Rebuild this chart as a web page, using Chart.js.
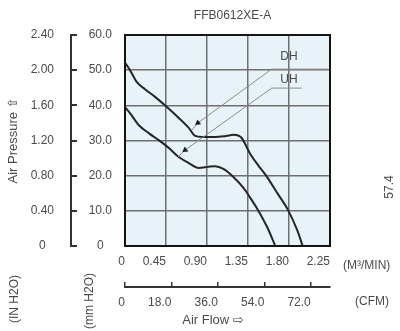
<!DOCTYPE html>
<html lang="en">
<head>
  <meta charset="UTF-8" />
  <title>FFB0612XE-A</title>
  <script src="https://cdn.jsdelivr.net/npm/chart.js"></script>
  <style>
    html, body { margin: 0; padding: 0; background: #fff; }
  </style>
</head>
<body>
  <canvas id="fanChart" width="400" height="331"></canvas>

  <script>
    // P-Q curves: flow in m3/min, static pressure in mmH2O
    const dhFlow     = [0, 0.055, 0.13, 0.22, 0.33, 0.46, 0.59, 0.70, 0.77, 0.85, 0.99, 1.11, 1.19, 1.28, 1.37, 1.46, 1.56, 1.67, 1.79, 1.89, 1.95];
    const dhPressure = [52.1, 50.0, 46.6, 44.6, 42.4, 39.5, 36.4, 33.6, 31.3, 31.0, 31.0, 31.3, 31.6, 30.7, 26.4, 23.0, 19.6, 15.1, 10.2, 4.5, 0];
    const uhFlow     = [0, 0.055, 0.15, 0.26, 0.37, 0.48, 0.59, 0.70, 0.81, 0.91, 0.99, 1.08, 1.19, 1.30, 1.37, 1.46, 1.56, 1.65];
    const uhPressure = [39.5, 37.8, 34.4, 32.1, 30.1, 27.9, 25.3, 23.6, 22.2, 22.5, 22.7, 21.9, 19.6, 16.5, 13.9, 10.2, 5.4, 0];

    // leader lines from the curve names down to the curves
    const dhLeaderFlow  = [2.23, 1.61, 0.80, 0.735];
    const dhLeaderPress = [50.3, 50.3, 35.0, 33.0];
    const uhLeaderFlow  = [1.94, 1.61, 0.66, 0.58];
    const uhLeaderPress = [44.9, 44.9, 27.3, 25.3];

    // axis ticks
    const flowTicksM3   = [0, 0.45, 0.90, 1.35, 1.80, 2.25];
    const flowTicksCfm  = [0, 18, 36, 54, 72];
    const pressTicksMm  = [0, 10, 20, 30, 40, 50, 60];
    const pressTicksIn  = [0, 0.40, 0.80, 1.20, 1.60, 2.00, 2.40];

    const modelName = 'FFB0612XE-A';
    const M3_PER_CFM = 0.0283168;

    const family = '"Liberation Sans", Arial, "DejaVu Sans", sans-serif';
    const textColor = '#4a4a4a';
    const gridColor = '#6f6f6f';
    const inkColor = '#262626';

    const toPoints = (xs, ys) => xs.map((x, i) => ({ x: x, y: ys[i] }));
    const useTicks = list => scale => { scale.ticks = list.map(v => ({ value: v })); };

    const extras = {
      id: 'extras',
      beforeDraw(chart) {
        const { ctx, chartArea: a } = chart;
        ctx.save();
        ctx.fillStyle = '#e8f3f9';
        ctx.fillRect(a.left, a.top, a.right - a.left, a.bottom - a.top);
        ctx.restore();
      },
      afterDraw(chart) {
        const { ctx, chartArea: a, scales } = chart;
        ctx.save();
        ctx.strokeStyle = '#141414';
        ctx.lineWidth = 2;
        ctx.strokeRect(a.left, a.top, a.right - a.left, a.bottom - a.top);

        ctx.fillStyle = textColor;
        ctx.textBaseline = 'middle';
        ctx.font = '12px ' + family;
        ctx.textAlign = 'center';
        ctx.fillText(modelName, (a.left + a.right) / 2 + 5, a.top - 19);

        // curve names sit on their leader underline
        const lx = scales.xM3.getPixelForValue(1.80);
        ctx.fillText('DH', lx, scales.yMm.getPixelForValue(53.7));
        ctx.fillText('UH', lx, scales.yMm.getPixelForValue(47.2));

        ctx.textAlign = 'left';
        ctx.fillText('(M³/MIN)', a.right + 13, 266);
        ctx.fillText('(CFM)', a.right + 25, 302);
        ctx.font = '13px ' + family;
        ctx.textAlign = 'center';
        ctx.fillText('Air Flow ⇨', 213, 320);

        const vertical = (txt, x, y) => {
          ctx.save();
          ctx.translate(x, y);
          ctx.rotate(-Math.PI / 2);
          ctx.fillText(txt, 0, 0);
          ctx.restore();
        };
        ctx.font = '12px ' + family;
        vertical('(IN H2O)', 15, 299);
        vertical('(mm H2O)', 90, 301);
        vertical('57.4', 390, 187);
        ctx.restore();
      }
    };

    const leader = (xs, ys, rot) => ({
      data: toPoints(xs, ys),
      borderColor: '#8c8c8c',
      borderWidth: 1,
      tension: 0,
      pointRadius: [0, 0, 3.5, 0],
      pointStyle: 'triangle',
      pointRotation: rot,
      pointBackgroundColor: '#1a1a1a',
      pointBorderWidth: 0,
      xAxisID: 'xM3',
      yAxisID: 'yMm'
    });

    const curve = (xs, ys) => ({
      data: toPoints(xs, ys),
      borderColor: inkColor,
      borderWidth: 2,
      pointRadius: 0,
      cubicInterpolationMode: 'monotone',
      xAxisID: 'xM3',
      yAxisID: 'yMm'
    });

    const tickFont = { family: family, size: 12 };

    new Chart(document.getElementById('fanChart'), {
      type: 'line',
      data: {
        datasets: [
          leader(dhLeaderFlow, dhLeaderPress, 233),
          leader(uhLeaderFlow, uhLeaderPress, 234),
          curve(dhFlow, dhPressure),
          curve(uhFlow, uhPressure)
        ]
      },
      options: {
        responsive: false,
        animation: false,
        layout: { padding: { top: 35, right: 70, left: 0, bottom: 0 } },
        plugins: { legend: { display: false }, tooltip: { enabled: false } },
        scales: {
          xM3: {
            type: 'linear', position: 'bottom', weight: 0,
            min: 0, max: 2.25,
            afterBuildTicks: useTicks(flowTicksM3),
            afterFit: s => { s.height = 41; },
            grid: { color: gridColor, lineWidth: 1.5, drawTicks: false },
            border: { display: false },
            ticks: {
              align: 'end', padding: 8, maxRotation: 0, autoSkip: false,
              color: textColor, font: tickFont,
              callback: v => v === 0 ? '0' : v.toFixed(2)
            }
          },
          xCfm: {
            type: 'linear', position: 'bottom', weight: 1,
            min: 0, max: 2.25 / M3_PER_CFM,
            afterBuildTicks: useTicks(flowTicksCfm),
            afterFit: s => { s.height = 44; },
            grid: { drawOnChartArea: false, drawTicks: true, tickLength: -5, color: '#333', lineWidth: 1.5 },
            border: { display: true, color: '#333', width: 2 },
            ticks: {
              align: 'end', padding: 13, maxRotation: 0, autoSkip: false,
              color: textColor, font: tickFont,
              callback: v => v === 0 ? '0' : v.toFixed(1)
            }
          },
          yMm: {
            type: 'linear', position: 'left', weight: 0,
            min: 0, max: 60,
            afterBuildTicks: useTicks(pressTicksMm),
            afterFit: s => { s.width = 54; },
            grid: { color: gridColor, lineWidth: 1.5, drawTicks: false },
            border: { display: false },
            ticks: {
              crossAlign: 'center', padding: 13,
              color: textColor, font: tickFont,
              callback: v => v === 0 ? '0' : v.toFixed(1)
            }
          },
          yIn: {
            type: 'linear', position: 'left', weight: 1,
            min: 0, max: 2.4,
            afterBuildTicks: useTicks(pressTicksIn),
            afterFit: s => { s.width = 71; },
            grid: { drawOnChartArea: false, drawTicks: true, tickLength: -6, color: '#333', lineWidth: 2 },
            border: { display: true, color: '#333', width: 2 },
            title: {
              display: true, text: 'Air Pressure ⇧', color: textColor,
              font: { family: family, size: 13 }, padding: { top: 6, bottom: 0 }
            },
            ticks: {
              crossAlign: 'center', padding: 23,
              color: textColor, font: tickFont,
              callback: v => v === 0 ? '0' : v.toFixed(2)
            }
          }
        }
      },
      plugins: [extras]
    });
  </script>
</body>
</html>
